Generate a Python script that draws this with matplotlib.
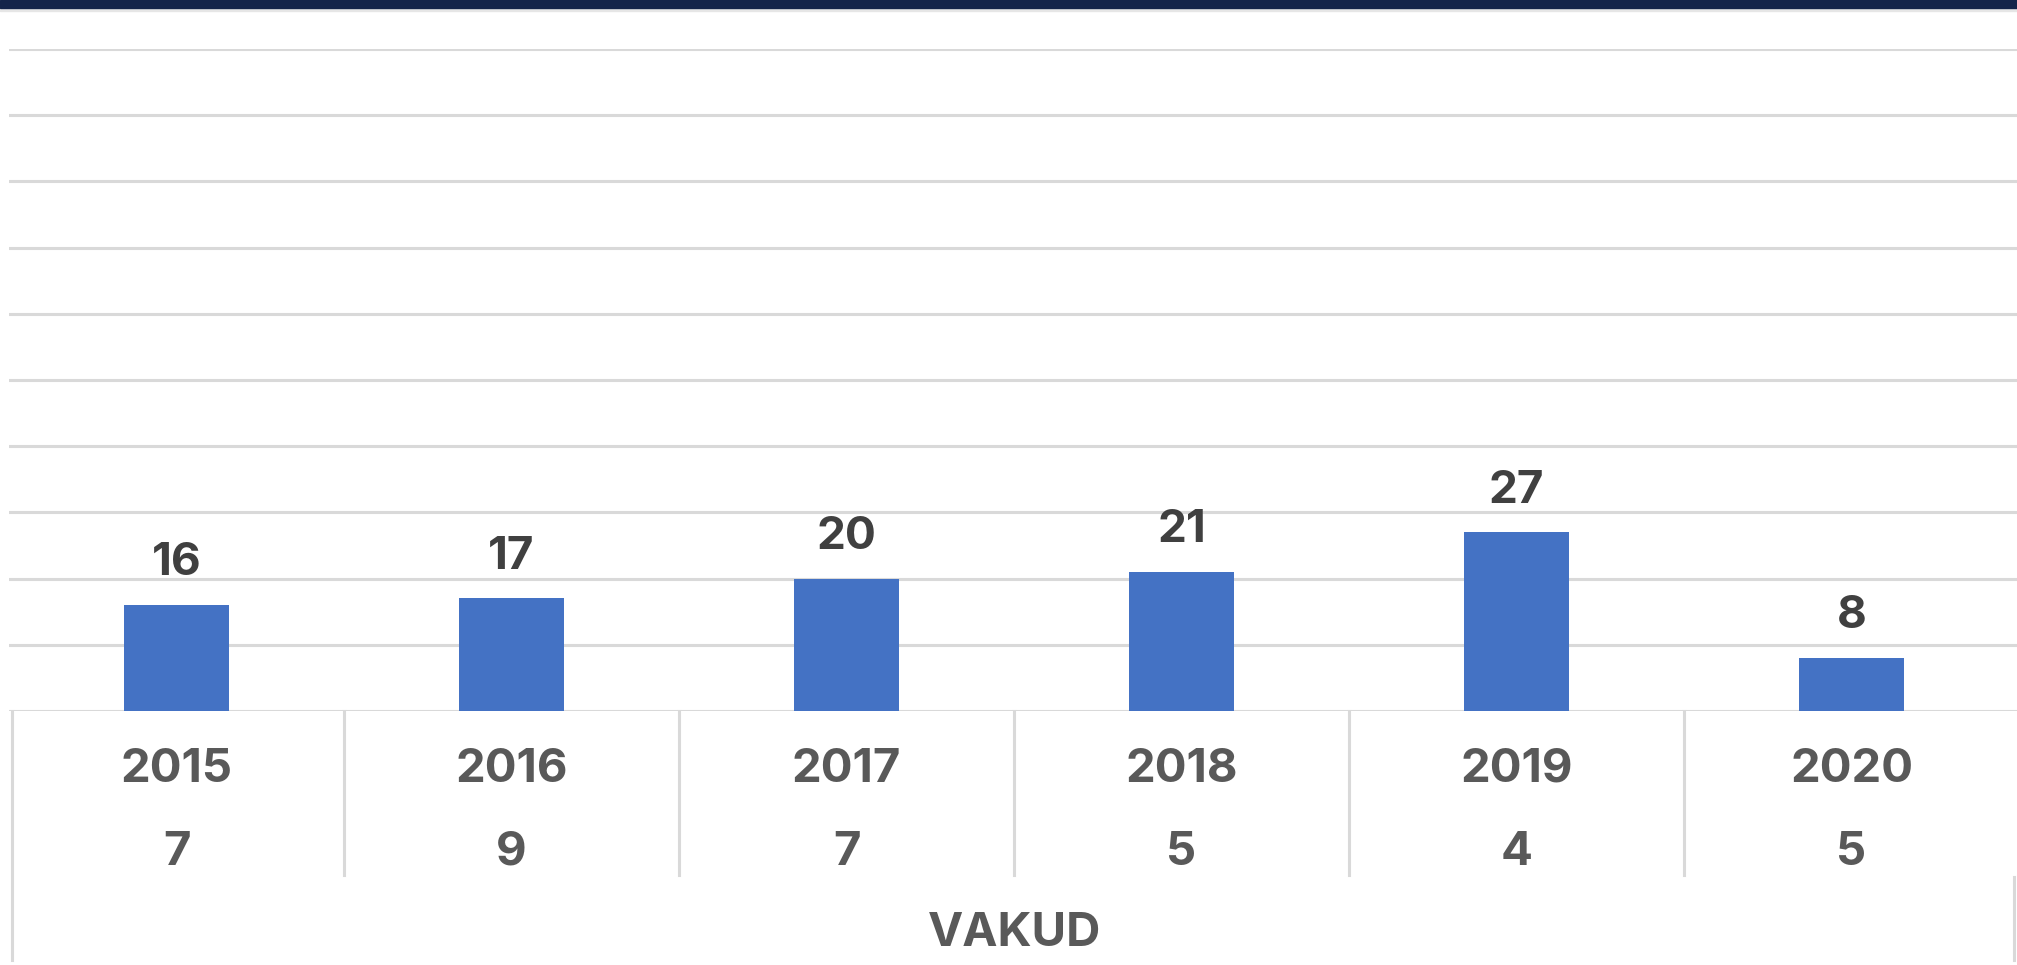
import matplotlib.pyplot as plt
import matplotlib.transforms as mtransforms
from matplotlib.patches import Rectangle

# data
years = ['2015', '2016', '2017', '2018', '2019', '2020']
second_row = ['7', '9', '7', '5', '4', '5']
values = [16, 17, 20, 21, 27, 8]
group_label = 'VAKUD'

plt.rcParams['font.family'] = ['Inter', 'Liberation Sans', 'DejaVu Sans']

W, H = 2017, 965
fig = plt.figure(figsize=(W / 100, H / 100), dpi=100)
fig.patch.set_facecolor('white')

# navy band at the top
fig.patches.append(Rectangle((0, 1 - 8 / H), 1, 8 / H, transform=fig.transFigure,
                             color='#14254A', zorder=5))
fig.patches.append(Rectangle((0, 1 - 11 / H), 1, 3 / H, transform=fig.transFigure,
                             color='#E6E6E6', zorder=4))

ax = fig.add_axes([9 / W, 1 - 711 / H, 2010 / W, 662 / H])
x = range(len(years))
ax.bar(x, values, width=0.315, color='#4472C4', zorder=3)

ax.set_xlim(-0.5, len(years) - 0.5)
ax.set_ylim(0, 100)
ax.set_yticks(range(0, 101, 10))
ax.yaxis.grid(True, color='#D9D9D9', linewidth=2.2)
ax.set_axisbelow(True)
ax.tick_params(left=False, bottom=False, labelleft=False, labelbottom=False)
for s in ax.spines.values():
    s.set_visible(False)

for xi, v in zip(x, values):
    ax.annotate(str(v), (xi, v), xytext=(0, 30), textcoords='offset points',
                ha='center', va='center', fontsize=33, fontweight='bold', color='#404040')

# multi-level category table below the axis
trans = mtransforms.blended_transform_factory(ax.transData, ax.transAxes)
line_kw = dict(color='#D9D9D9', linewidth=2.2, clip_on=False, transform=trans)
ax.plot([-0.49, -0.49], [0, -0.376], **line_kw)
ax.plot([5.485, 5.485], [-0.25, -0.376], **line_kw)
for i in range(len(years) - 1):
    ax.plot([i + 0.5, i + 0.5], [0, -0.248], **line_kw)

for xi, y1, y2 in zip(x, years, second_row):
    ax.text(xi, -0.089, y1, transform=trans, ha='center', va='center',
            fontsize=34, fontweight='bold', color='#595959')
    ax.text(xi, -0.214, y2, transform=trans, ha='center', va='center',
            fontsize=34, fontweight='bold', color='#595959')
ax.text((len(years) - 1) / 2, -0.337, group_label, transform=trans, ha='center', va='center',
        fontsize=34, fontweight='bold', color='#595959')

fig.savefig('out.png', dpi=100)
